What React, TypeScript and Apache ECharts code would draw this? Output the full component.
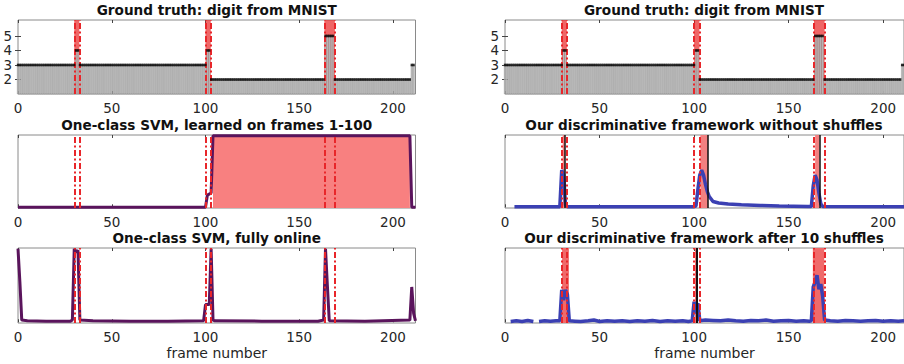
import React, { useEffect, useRef } from "react";
import * as echarts from "echarts";

// ---------- data ----------
const xTicks = [0, 50, 100, 150, 200];
const gtYTicks = [2, 3, 4, 5];

// Ground truth digit as run-length segments
const gtRunStart = [0, 31, 33, 101, 103, 164, 169, 210];
const gtRunEnd = [30, 32, 100, 102, 163, 168, 209, 211];
const gtRunDigit = [3, 4, 3, 4, 2, 5, 2, 3];

// true change intervals / boundaries
const gtBands: [number, number][] = [[30, 32.7], [100, 102.8], [163.4, 169]];
const changeLines = [30, 32.7, 100, 102.8, 163.4, 169];

// One-class SVM learned on frames 1-100
const svmBatch: [number, number][] = [
  [0, 0], [100, 0], [101, 0.17], [103, 0.2], [104, 1], [209, 1], [210, 0], [212, 0],
];
const svmBatchDetect: [number, number][] = [[104, 209]];

// One-class SVM fully online
const svmOnline: [number, number][] = [
  [0, 1], [1, 0.55], [2, 0.03], [5, 0.02], [15, 0.015], [28, 0.015], [29, 0.03],
  [30, 1], [31, 0.95], [32, 0.98], [33, 0.03], [40, 0.02], [60, 0.015], [80, 0.015],
  [99, 0.02], [100, 0.24], [102, 0.24], [103, 1], [104, 0.03], [105, 0.02], [130, 0.015],
  [160, 0.015], [163, 0.03], [164, 1], [165, 0.5], [166, 0.02], [185, 0.015], [209, 0.03],
  [210, 0.48], [211, 0.12], [212, 0.02],
];

// Discriminative framework without shuffles
const noShuffle: [number, number][] = [
  [5, 0.008], [29, 0.008], [30, 0.52], [31, 0.45], [32, 0.03], [33, 0.008], [100, 0.008],
  [101, 0.02], [102, 0.25], [103, 0.45], [104, 0.52], [105, 0.45], [106, 0.32], [107, 0.22],
  [108, 0.15], [110, 0.08], [113, 0.06], [118, 0.045], [125, 0.035], [135, 0.025],
  [145, 0.018], [160, 0.012], [162, 0.01], [163, 0.3], [164, 0.45], [165, 0.38],
  [166, 0.2], [167, 0.05], [168, 0.01], [211, 0.008],
];
const noShuffleDetect: [number, number][] = [[30.5, 31.7], [103.3, 107.4], [164, 166.3]];
const noShuffleLines = [31.7, 107.4, 166.3];

// Discriminative framework after 10 shuffles
const shuffled: [number, number | string][] = [
  [3, 0.01], [6, 0.02], [9, 0.01], [12, 0.025], [15, 0.01], [16, "-"], [18, 0.01],
  [21, 0.02], [24, 0.015], [27, 0.02], [29, 0.02], [30, 0.44], [31, 0.3], [32, 0.44],
  [33, 0.38], [34, 0.02], [37, 0.015], [40, 0.01], [44, 0.02], [47, 0.03], [50, 0.01],
  [54, 0.02], [58, 0.015], [62, 0.02], [66, 0.01], [70, 0.02], [74, 0.015], [78, 0.025],
  [82, 0.01], [86, 0.02], [90, 0.015], [94, 0.02], [97, 0.01], [99, 0.02], [100, 0.28],
  [101, 0.12], [102, 0.26], [103, 0.02], [106, 0.03], [110, 0.025], [114, 0.02],
  [118, 0.03], [122, 0.02], [126, 0.015], [130, 0.025], [134, 0.02], [138, 0.03],
  [142, 0.015], [146, 0.02], [150, 0.025], [154, 0.015], [158, 0.02], [161, 0.015],
  [162, 0.02], [163, 0.48], [164, 0.55], [165, 0.64], [166, 0.45], [167, 0.52],
  [168, 0.35], [169, 0.03], [172, 0.02], [176, 0.015], [180, 0.025], [184, 0.02],
  [188, 0.015], [192, 0.02], [196, 0.025], [200, 0.015], [204, 0.02], [208, 0.015],
  [211, 0.02],
];
const shuffledDetect: [number, number][] = [[30.2, 33.8], [100.5, 101.8], [162.8, 168.8]];
const shuffledLines = [101.4];

const titles = [
  "Ground truth: digit from MNIST",
  "Ground truth: digit from MNIST",
  "One-class SVM, learned on frames 1-100",
  "Our discriminative framework without shuffles",
  "One-class SVM, fully online",
  "Our discriminative framework after 10 shuffles",
];

// ---------- layout ----------
const FONT = "DejaVu Sans";
const colLeft = [18, 505];
const colWidth = [397.5, 399];
const colMax = [212, 211];
const rowTop = [20, 135, 248];
const rowHeight = [74, 73, 75];

const RED = "#e8262a";
const PURPLE = "#5a145c";
const BLUE = "#3b40b3";

export default function App() {
  const ref = useRef<HTMLDivElement>(null);

  useEffect(() => {
    document.body.style.margin = "0";
    if (!ref.current) return;
    const chart = echarts.init(ref.current, undefined, { renderer: "svg" });

    const gtBars: [number, number][] = [];
    for (let k = 0; k < gtRunStart.length; k++) {
      for (let f = gtRunStart[k]; f <= gtRunEnd[k]; f++) gtBars.push([f, gtRunDigit[k]]);
    }

    const grids: any[] = [];
    const xAxes: any[] = [];
    const yAxes: any[] = [];
    const series: any[] = [];
    const graphics: any[] = [];

    for (let p = 0; p < 6; p++) {
      const c = p % 2;
      const r = Math.floor(p / 2);
      grids.push({
        left: colLeft[c], top: rowTop[r], width: colWidth[c], height: rowHeight[r],
        show: true, borderColor: "#8a8a8a", borderWidth: 1, backgroundColor: "#fff",
      });
      const baseX = {
        type: "value", gridIndex: p, min: 0, max: colMax[c],
        axisLine: { show: false }, splitLine: { show: false },
        axisTick: { show: true, inside: true, length: 3, customValues: xTicks, lineStyle: { color: "#444" } },
      };
      xAxes.push({
        ...baseX, position: "bottom",
        axisLabel: { show: true, customValues: xTicks, margin: 7, fontSize: 13.5, fontFamily: FONT, color: "#262626" },
      });
      xAxes.push({ ...baseX, position: "top", axisLabel: { show: false } });
      graphics.push({
        type: "text", x: colLeft[c] + colWidth[c] / 2 - (c === 1 ? 0.5 : 0), y: rowTop[r] - 10,
        style: { text: titles[p], fill: "#111", fontSize: 13.6, fontWeight: "bold", fontFamily: FONT, align: "center", verticalAlign: "middle" },
      });
    }

    // y axes
    for (let p = 0; p < 6; p++) {
      if (p < 2) {
        yAxes.push({
          type: "value", gridIndex: p, min: 1, max: 6.1, position: "left",
          axisLine: { show: false }, splitLine: { show: false },
          axisTick: { show: true, inside: true, length: 3, customValues: gtYTicks, lineStyle: { color: "#444" } },
          axisLabel: { show: true, customValues: gtYTicks, margin: 6, fontSize: 13.5, fontFamily: FONT, color: "#262626" },
        });
      } else {
        yAxes.push({
          type: "value", gridIndex: p, min: -0.01, max: 1.01,
          axisLine: { show: false }, splitLine: { show: false }, axisTick: { show: false }, axisLabel: { show: false },
        });
      }
    }
    for (let p = 0; p < 2; p++) {
      yAxes.push({
        type: "value", gridIndex: p, min: 1, max: 6.1, position: "right",
        axisLine: { show: false }, splitLine: { show: false },
        axisTick: { show: true, inside: true, length: 3, customValues: gtYTicks, lineStyle: { color: "#444" } },
        axisLabel: { show: false },
      });
    }

    const markHolder = (p: number, z: number, extra: any) => ({
      type: "line", xAxisIndex: 2 * p, yAxisIndex: p, z,
      data: [[0, 0.5]], symbol: "none", silent: true,
      lineStyle: { opacity: 0 }, ...extra,
    });
    const areaOf = (bands: [number, number][], color: string) => ({
      silent: true, label: { show: false }, itemStyle: { color },
      data: bands.map(([a, b]) => [{ xAxis: a }, { xAxis: b }]),
    });
    const linesOf = (xs: number[], color: string, type: any, width: number) => ({
      silent: true, symbol: ["none", "none"], label: { show: false },
      lineStyle: { color, type, width },
      emphasis: { disabled: true },
      data: xs.map((x) => ({ xAxis: x })),
    });
    const DASH = [6, 2.5, 2, 2.5];

    // ground truth panels
    for (let p = 0; p < 2; p++) {
      series.push({
        type: "bar", xAxisIndex: 2 * p, yAxisIndex: p, z: 2, clip: true,
        data: gtBars, barWidth: 1.9, silent: true,
        itemStyle: { color: "#c2c2c2", borderColor: "#858585", borderWidth: 0.4 },
      });
      series.push(markHolder(p, 3, { markArea: areaOf(gtBands, "rgba(232,30,30,0.68)") }));
      series.push(markHolder(p, 4, { markLine: linesOf(changeLines, RED, DASH, 2) }));
      series.push({
        type: "scatter", xAxisIndex: 2 * p, yAxisIndex: p, z: 5, silent: true,
        data: gtBars, symbol: "rect", symbolSize: [2.3, 2.6], itemStyle: { color: "#000" },
      });
    }

    // panel 2: one-class SVM batch
    series.push(markHolder(2, 1, { markArea: areaOf(svmBatchDetect, "#f88080") }));
    series.push(markHolder(2, 5, { markLine: linesOf(changeLines, RED, DASH, 2) }));
    series.push({
      type: "line", xAxisIndex: 4, yAxisIndex: 2, z: 4, data: svmBatch, symbol: "none", clip: false,
      lineStyle: { color: PURPLE, width: 3 }, silent: true,
    });

    // panel 3: noShuffle (right middle)
    series.push(markHolder(3, 1, { markArea: areaOf(noShuffleDetect, "#f28080") }));
    series.push(markHolder(3, 5, { markLine: linesOf(changeLines, RED, DASH, 2) }));
    series.push(markHolder(3, 2, { markLine: linesOf(noShuffleLines, "#111", "solid", 1.5) }));
    series.push({
      type: "line", xAxisIndex: 6, yAxisIndex: 3, z: 4, data: noShuffle, symbol: "none", clip: false,
      lineStyle: { color: BLUE, width: 3.5 }, silent: true,
    });

    // panel 4: SVM online
    series.push(markHolder(4, 5, { markLine: linesOf(changeLines, RED, DASH, 2) }));
    series.push({
      type: "line", xAxisIndex: 8, yAxisIndex: 4, z: 4, data: svmOnline, symbol: "none", clip: false,
      lineStyle: { color: PURPLE, width: 3 }, silent: true,
    });

    // panel 5: shuffled
    series.push(markHolder(5, 1, { markArea: areaOf(shuffledDetect, "#f06a6a") }));
    series.push(markHolder(5, 5, { markLine: linesOf(changeLines, RED, DASH, 2) }));
    series.push(markHolder(5, 2, { markLine: linesOf(shuffledLines, "#111", "solid", 2) }));
    series.push({
      type: "line", xAxisIndex: 10, yAxisIndex: 5, z: 4, data: shuffled, symbol: "none", clip: false,
      connectNulls: false, lineStyle: { color: BLUE, width: 3.5 }, silent: true,
    });

    for (let c = 0; c < 2; c++) {
      graphics.push({
        type: "text", x: colLeft[c] + colWidth[c] / 2, y: 353,
        style: { text: "frame number", fill: "#262626", fontSize: 14, fontFamily: FONT, align: "center", verticalAlign: "middle" },
      });
    }

    chart.setOption({
      animation: false,
      grid: grids,
      xAxis: xAxes,
      yAxis: yAxes,
      series,
      graphic: graphics,
    });
    return () => chart.dispose();
  }, []);

  return <div ref={ref} style={{ width: 904, height: 364 }} />;
}
